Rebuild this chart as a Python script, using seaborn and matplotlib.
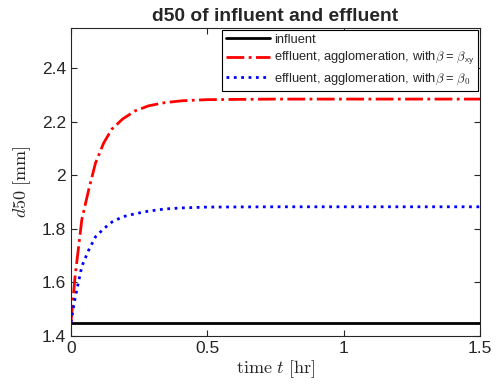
import numpy as np
import pandas as pd
import matplotlib
matplotlib.use("Agg")
import matplotlib.pyplot as plt
import seaborn as sns

# time [hr]
t = [0, 0.015, 0.04, 0.065, 0.09, 0.12, 0.15, 0.19, 0.235, 0.285, 0.345, 0.41,
     0.5, 0.75, 1.0, 1.25, 1.5]

# d50 [mm]
influent = [1.45] * len(t)
effluent_xy = [1.45, 1.62, 1.835, 1.945, 2.045, 2.12, 2.172, 2.21, 2.24, 2.259,
               2.271, 2.278, 2.282, 2.284, 2.284, 2.284, 2.284]
effluent_0 = [1.45, 1.54, 1.66, 1.72, 1.77, 1.80, 1.825, 1.845, 1.856, 1.866,
              1.874, 1.878, 1.881, 1.882, 1.882, 1.882, 1.882]

labels = [
    "influent",
    r"effluent, agglomeration, with$\beta$ = $\beta_{\mathsf{xy}}$",
    r"effluent, agglomeration, with$\beta$ = $\beta_{\mathsf{0}}$",
]

sns.set_style("ticks")
plt.rcParams["font.family"] = ["Liberation Sans", "DejaVu Sans"]
plt.rcParams["mathtext.fontset"] = "cm"

df = pd.DataFrame({
    "t": t * 3,
    "d50": influent + effluent_xy + effluent_0,
    "series": [labels[0]] * len(t) + [labels[1]] * len(t) + [labels[2]] * len(t),
})

fig = plt.figure(figsize=(4.96, 3.92), dpi=100)
ax = fig.add_axes([0.143, 0.143, 0.825, 0.786])

styles = {labels[0]: ("black", "-"), labels[1]: ("red", "-."), labels[2]: ("blue", ":")}
for lab in labels:
    sub = df[df["series"] == lab]
    color, ls = styles[lab]
    sns.lineplot(data=sub, x="t", y="d50", ax=ax, color=color, linestyle=ls,
                 linewidth=2, label=lab)

ax.set_xlim(0, 1.5)
ax.set_ylim(1.4, 2.55)
ax.set_xticks([0, 0.5, 1, 1.5])
ax.set_xticklabels(["0", "0.5", "1", "1.5"])
ax.set_yticks([1.4, 1.6, 1.8, 2.0, 2.2, 2.4])
ax.set_yticklabels(["1.4", "1.6", "1.8", "2", "2.2", "2.4"])
ax.tick_params(direction="in", top=True, right=True, labelsize=12.5, colors="#262626",
               length=4, width=0.8)
for s in ax.spines.values():
    s.set_visible(True)
    s.set_color("#262626")
    s.set_linewidth(0.8)

ax.set_xlabel(r"$\mathrm{time}\ t\ [\mathrm{hr}]$", fontsize=13, color="#262626", labelpad=2)
ax.set_ylabel(r"$d50\ [\mathrm{mm}]$", fontsize=13, color="#262626", labelpad=6)
ax.set_title("d50 of influent and effluent", fontsize=13.9, fontweight="bold", pad=5)

leg = ax.legend(loc="upper right", fontsize=9.3, frameon=True, fancybox=False,
                framealpha=1, edgecolor="black", borderaxespad=0.15, handlelength=3.4,
                labelspacing=0.35, handletextpad=0.3, borderpad=0.3)
leg.get_frame().set_linewidth(0.8)

fig.savefig("out.png", dpi=100)
